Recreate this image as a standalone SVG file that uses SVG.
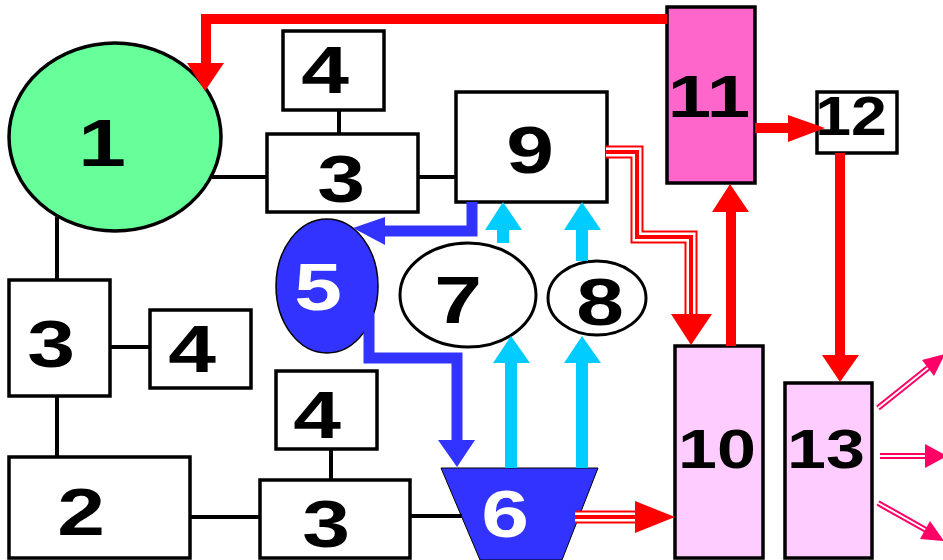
<svg xmlns="http://www.w3.org/2000/svg" width="943" height="560" viewBox="0 0 943 560">
<style>
.box{fill:#fff;stroke:#000;stroke-width:3.5}
.lbl{font-family:"Liberation Sans",Arial,sans-serif;font-weight:bold;text-anchor:middle;fill:#000;font-size:66px}
.sm{font-size:56px}
.wh{fill:#fff}
.link{stroke:#000;stroke-width:4;fill:none}
.red{stroke:#FF0000;stroke-width:10;fill:none;stroke-linejoin:miter}
.redh{fill:#FF0000}
.blue{stroke:#3333FF;stroke-width:11;fill:none;stroke-linejoin:miter}
.blueh{fill:#3333FF}
.cyan{stroke:#00CCFF;stroke-width:12;fill:none}
.cyanh{fill:#00CCFF}
.t1{stroke:#FF0000;stroke-width:13;fill:none;stroke-linejoin:miter}
.t2{stroke:#fff;stroke-width:9;fill:none;stroke-linejoin:miter}
.t3{stroke:#FF0000;stroke-width:4;fill:none;stroke-linejoin:miter}
.p1{stroke:#FF0066;stroke-width:6;fill:none}
.p2{stroke:#fff;stroke-width:2;fill:none}
.pinkh{fill:#FF0066}
</style>
<rect width="943" height="560" fill="#fff"/>
<g id="n1"><ellipse cx="115" cy="137" rx="106" ry="94" fill="#66FF99" stroke="#000" stroke-width="3.5"/><text class="lbl" transform="translate(102,166) scale(1.3,1)">1</text></g>
<g id="n3a"><rect class="box" x="9" y="280" width="101" height="116"/><text class="lbl" transform="translate(51,367) scale(1.3,1)">3</text></g>
<g id="n4a"><rect class="box" x="150" y="310" width="101" height="78"/><text class="lbl" transform="translate(192,372) scale(1.3,1)">4</text></g>
<g id="n2"><rect class="box" x="9" y="457" width="181" height="101"/><text class="lbl" transform="translate(81,535) scale(1.3,1)">2</text></g>
<g id="n4b"><rect class="box" x="283" y="31" width="101" height="79"/><text class="lbl" transform="translate(325,93) scale(1.3,1)">4</text></g>
<g id="n3b"><rect class="box" x="267" y="134" width="151" height="78"/><text class="lbl" transform="translate(341,202) scale(1.3,1)">3</text></g>
<g id="n9"><rect class="box" x="456" y="92" width="151" height="110"/><text class="lbl" transform="translate(530,173) scale(1.3,1)">9</text></g>
<g id="n4c"><rect class="box" x="276" y="371" width="101" height="78"/><text class="lbl" transform="translate(317,438) scale(1.3,1)">4</text></g>
<g id="n3c"><rect class="box" x="260" y="480" width="150" height="78"/><text class="lbl" transform="translate(326,547) scale(1.3,1)">3</text></g>
<g id="n6"><polygon points="441,468 598,468 562,560 480,560" fill="#3333FF" stroke="#000" stroke-width="1"/><text class="lbl wh" transform="translate(505,537) scale(1.3,1)">6</text></g>
<g id="n5"><ellipse cx="327" cy="286" rx="51" ry="67" fill="#3333FF" stroke="#000" stroke-width="1.5"/><text class="lbl wh" transform="translate(318,310) scale(1.3,1)">5</text></g>
<g id="n7"><ellipse cx="468" cy="295" rx="68" ry="52" fill="#fff" stroke="#000" stroke-width="3"/><text class="lbl" transform="translate(458,323) scale(1.3,1)">7</text></g>
<g id="n8"><ellipse cx="597" cy="298" rx="49" ry="37" fill="#fff" stroke="#000" stroke-width="3"/><text class="lbl" transform="translate(600,325) scale(1.3,1)">8</text></g>
<g id="n11"><rect x="667" y="7" width="88" height="176" fill="#FF66CC" stroke="#000" stroke-width="3.5"/><text class="lbl" style="font-size:60px" transform="translate(709,117) scale(1.3,1)">11</text></g>
<g id="n12"><rect class="box" x="817" y="92" width="80" height="61"/><text class="lbl sm" transform="translate(851,135) scale(1.15,1)">12</text></g>
<g id="n10"><rect x="675" y="346" width="88" height="212" fill="#FFCCFF" stroke="#000" stroke-width="3.5"/><text class="lbl sm" transform="translate(717,468) scale(1.25,1)">10</text></g>
<g id="n13"><rect x="785" y="383" width="87" height="175" fill="#FFCCFF" stroke="#000" stroke-width="3.5"/><text class="lbl sm" transform="translate(826,468) scale(1.25,1)">13</text></g>
<g id="connectors">
<path class="link" d="M212,177H267 M57,217V280 M110,347H150 M57,396V457 M339,110V134 M418,177H456 M190,517H260 M331,449V480 M410,516H462"/>
<path class="red" d="M667,19H206V64"/><polygon class="redh" points="187,63 224,63 205,91"/>
<path class="red" d="M755,128H789"/><polygon class="redh" points="788,115 788,142 825,128"/>
<path class="red" d="M840,153V356"/><polygon class="redh" points="822,355 859,355 840,382"/>
<path class="red" d="M731,346V211"/><polygon class="redh" points="712,212 749,212 730,184"/>
<path class="t1" d="M606,152H637V237H691V315"/><path class="t2" d="M606,152H637V237H691V315"/><path class="t3" d="M606,152H637V237H691V315"/><polygon class="redh" points="671,314 712,314 691,345"/>
<path class="t1" d="M575,517H636"/><path class="t2" d="M575,517H636"/><path class="t3" d="M575,517H636"/><polygon class="redh" points="635,501 635,533 675,517"/>
<path class="blue" d="M472,202V231H385"/><polygon class="blueh" points="385,217 385,245 353,228"/>
<path class="blue" d="M369,312V358H457V441"/><polygon class="blueh" points="438,440 475,440 457,467"/>
<path class="cyan" d="M503,243V229"/><polygon class="cyanh" points="485,230 522,230 503,202"/>
<path class="cyan" d="M582,261V229"/><polygon class="cyanh" points="564,230 601,230 582,202"/>
<path class="cyan" d="M511,468V362"/><polygon class="cyanh" points="493,363 530,363 511,336"/>
<path class="cyan" d="M582,468V362"/><polygon class="cyanh" points="564,363 601,363 582,336"/>
<path class="p1" d="M878,408L928,368"/><path class="p2" d="M878,408L928,368"/><polygon class="pinkh" points="934,376 922,360 945,354"/>
<path class="p1" d="M880,456H926"/><path class="p2" d="M880,456H926"/><polygon class="pinkh" points="925,444 925,468 947,456"/>
<path class="p1" d="M878,503L926,530"/><path class="p2" d="M878,503L926,530"/><polygon class="pinkh" points="920,539 930,521 944,541"/>
</g>
</svg>
